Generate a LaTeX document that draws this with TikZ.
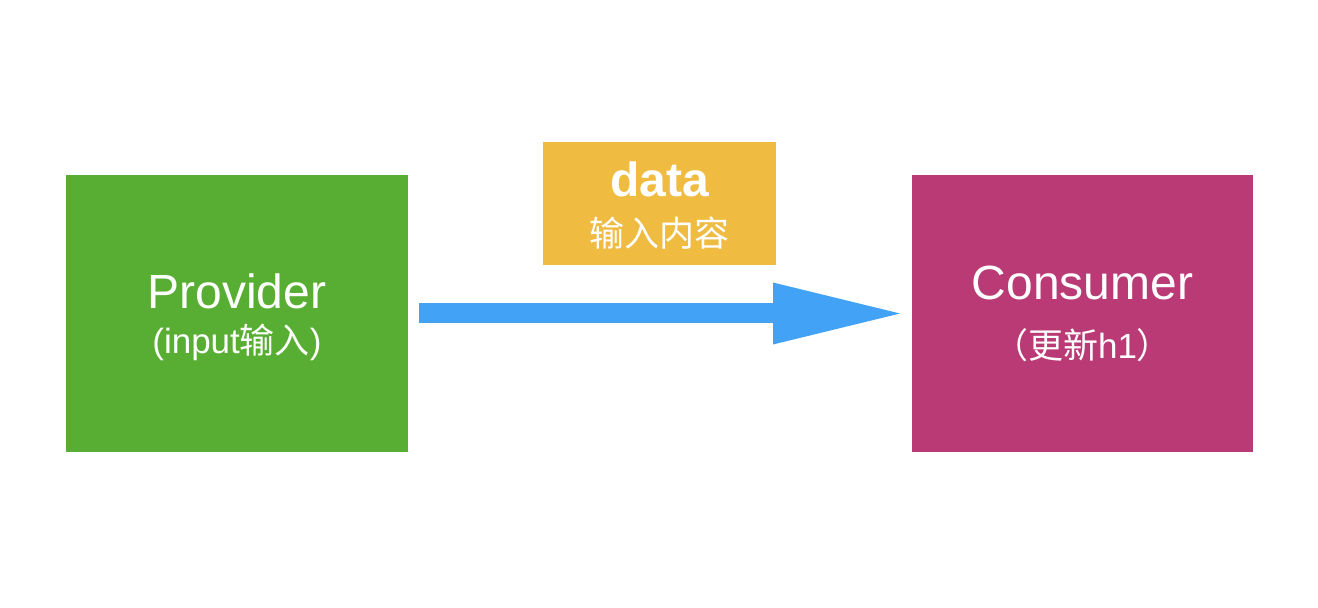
\documentclass[tikz,border=0pt]{standalone}
\usepackage{fontspec}
\setmainfont{Liberation Sans}
\newfontfamily\cjk{Noto Sans CJK SC}
\usetikzlibrary{arrows.meta}
\definecolor{provgreen}{HTML}{58AE33}
\definecolor{consmag}{HTML}{B93A75}
\definecolor{datayel}{HTML}{EFBB41}
\definecolor{arrblue}{HTML}{42A2F5}
\begin{document}
\begin{tikzpicture}[x=1pt,y=1pt,
  box/.style={draw=none, inner sep=0pt, outer sep=0pt},
  title/.style={text=white, font=\fontsize{48}{48}\selectfont, anchor=base, inner sep=0pt},
  titlebf/.style={text=white, font=\fontsize{48}{48}\selectfont\bfseries, anchor=base, inner sep=0pt},
  sub/.style={text=white, font=\fontsize{35}{35}\selectfont, anchor=base, inner sep=0pt},
  flow/.style={draw=arrblue, line width=20pt, -{Triangle[length=127pt 0 0,width=62pt 0,line width=0pt,fill=arrblue]}}]
\useasboundingbox (0,0) rectangle (1318,608);
\fill[white] (0,0) rectangle (1318,608);
\node[box, fill=provgreen, minimum width=342pt, minimum height=277pt] (prov) at (237,294.5) {};
\node[box, fill=consmag, minimum width=341pt, minimum height=277pt] (cons) at (1082.5,294.5) {};
\node[box, fill=datayel, minimum width=233pt, minimum height=123pt] (data) at (659.5,404.5) {};
\node[title] (provT) at (237,299) {Provider};
\node[sub] (provS) at (237,254) {(input{\cjk 输入})};
\node[title] (consT) at (1082.5,308) {Consumer};
\node[sub] (consS) at (1082.5,249) {{\cjk （更新}h1{\cjk ）}};
\node[titlebf] (dataT) at (659.5,411) {data};
\node[sub] (dataS) at (659.5,361) {\cjk 输入内容};
\coordinate (aS) at ([xshift=11pt,yshift=0pt]prov.east);
\coordinate (aE) at ([xshift=-12pt,yshift=0pt]cons.west);
\draw[flow] (aS) -- (aE);
\end{tikzpicture}
\end{document}
